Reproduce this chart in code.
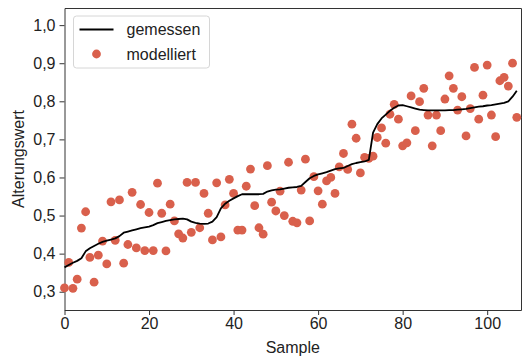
<!DOCTYPE html>
<html>
<head>
<meta charset="utf-8">
<script src="https://cdn.jsdelivr.net/npm/d3@7"></script>
<style>
  html, body { margin: 0; padding: 0; background: #fff; }
  text { font-family: "Liberation Sans", Arial, sans-serif; }
</style>
</head>
<body>
<script>
const { select, scaleLinear, axisLeft, axisBottom, axisTop, axisRight, line, formatLocale } = d3;

// gemessen: one value per sample index 0..107
const measured = [
  0.364, 0.370, 0.376, 0.381, 0.388, 0.406, 0.414, 0.420, 0.426, 0.431,
  0.434, 0.437, 0.440, 0.446, 0.455, 0.458, 0.461, 0.464, 0.467, 0.469,
  0.471, 0.475, 0.480, 0.483, 0.486, 0.488, 0.490, 0.491, 0.492, 0.490,
  0.484, 0.481, 0.479, 0.478, 0.479, 0.484, 0.496, 0.519, 0.531, 0.539,
  0.545, 0.551, 0.556, 0.556, 0.556, 0.556, 0.556, 0.557, 0.563, 0.566,
  0.568, 0.569, 0.571, 0.573, 0.574, 0.575, 0.578, 0.588, 0.598, 0.604,
  0.608, 0.611, 0.614, 0.618, 0.622, 0.624, 0.625, 0.630, 0.635, 0.638,
  0.640, 0.642, 0.646, 0.718, 0.740, 0.755, 0.765, 0.775, 0.783, 0.789,
  0.790, 0.787, 0.784, 0.781, 0.778, 0.777, 0.776, 0.776, 0.776, 0.776,
  0.776, 0.777, 0.777, 0.778, 0.779, 0.780, 0.782, 0.784, 0.786, 0.787,
  0.789, 0.790, 0.792, 0.794, 0.796, 0.800, 0.812, 0.828
]

// modelliert: one value per sample index 0..107
const modelled = [
  0.310, 0.377, 0.309, 0.333, 0.467, 0.510, 0.390, 0.325, 0.396, 0.433,
  0.373, 0.536, 0.435, 0.541, 0.375, 0.424, 0.561, 0.415, 0.529, 0.408,
  0.508, 0.408, 0.585, 0.506, 0.407, 0.530, 0.486, 0.452, 0.441, 0.587,
  0.456, 0.587, 0.468, 0.558, 0.506, 0.436, 0.586, 0.444, 0.528, 0.595,
  0.558, 0.462, 0.462, 0.577, 0.622, 0.526, 0.468, 0.451, 0.631, 0.535,
  0.512, 0.564, 0.500, 0.640, 0.485, 0.481, 0.567, 0.648, 0.486, 0.602,
  0.565, 0.530, 0.591, 0.600, 0.558, 0.628, 0.663, 0.621, 0.740, 0.703,
  0.612, 0.653, 0.650, 0.656, 0.705, 0.730, 0.690, 0.766, 0.792, 0.753,
  0.683, 0.691, 0.814, 0.723, 0.799, 0.834, 0.764, 0.683, 0.764, 0.723,
  0.806, 0.867, 0.834, 0.777, 0.812, 0.709, 0.781, 0.889, 0.753, 0.816,
  0.895, 0.764, 0.707, 0.854, 0.863, 0.840, 0.900, 0.758
]

const xTicks = [0, 20, 40, 60, 80, 100]
const yTicks = [0.3, 0.4, 0.5, 0.6, 0.7, 0.8, 0.9, 1.0]
const legendLabels = ["gemessen", "modelliert"]

const width = 525
const height = 358
const margin = { left: 64.5, right: 4, top: 8, bottom: 48 }

const red = "#d9604c"
const spine = "#333"
const fontSize = "16px"

const de = formatLocale({ decimal: ",", thousands: ".", grouping: [3], currency: ["", " €"] })
const fmt = de.format(".1f")

const svg = select("body")
  .append("svg")
  .attr("width", width)
  .attr("height", height)

const xScale = scaleLinear()
  .domain([0, 108])
  .range([margin.left, width - margin.right])

const yScale = scaleLinear()
  .domain([0.252, 1.045])
  .range([height - margin.bottom, margin.top])

// axes
svg.append("g")
  .attr("transform", `translate(0,${height - margin.bottom})`)
  .call(axisBottom(xScale).tickValues(xTicks).tickSize(5).tickPadding(3).tickSizeOuter(0))

svg.append("g")
  .attr("transform", `translate(${margin.left},0)`)
  .call(axisLeft(yScale).tickValues(yTicks).tickFormat(fmt).tickSize(5).tickPadding(4).tickSizeOuter(0))

svg.append("g")
  .attr("transform", `translate(0,${margin.top})`)
  .call(axisTop(xScale).tickValues([]).tickSizeOuter(0))

svg.append("g")
  .attr("transform", `translate(${width - margin.right},0)`)
  .call(axisRight(yScale).tickValues([]).tickSizeOuter(0))

svg.selectAll(".domain").attr("stroke", spine).attr("stroke-width", 1)
svg.selectAll(".tick line").attr("stroke", spine).attr("stroke-width", 1)
svg.selectAll(".tick text")
  .attr("fill", "#222")
  .style("font-size", fontSize)
  .style("font-family", "Liberation Sans, Arial, sans-serif")

// points
svg.append("g")
  .selectAll("circle")
  .data(modelled)
  .join("circle")
  .attr("cx", (d, i) => xScale(i))
  .attr("cy", d => yScale(d))
  .attr("r", 4.4)
  .attr("fill", red)

// measured line
const lineGen = line()
  .x((d, i) => xScale(i))
  .y(d => yScale(d))

svg.append("path")
  .datum(measured)
  .attr("d", lineGen)
  .attr("fill", "none")
  .attr("stroke", "#000")
  .attr("stroke-width", 1.8)
  .attr("stroke-linejoin", "round")

// axis labels
svg.append("text")
  .attr("x", (xScale.range()[0] + xScale.range()[1]) / 2)
  .attr("y", 353)
  .attr("text-anchor", "middle")
  .style("font-size", fontSize)
  .attr("fill", "#222")
  .text("Sample")

svg.append("text")
  .attr("transform", `translate(23.5,${(yScale.range()[0] + yScale.range()[1]) / 2}) rotate(-90)`)
  .attr("text-anchor", "middle")
  .style("font-size", fontSize)
  .attr("fill", "#222")
  .text("Alterungswert")

// legend
const legend = svg.append("g").attr("transform", "translate(73.5,16)")

legend.append("rect")
  .attr("width", 136)
  .attr("height", 52)
  .attr("rx", 3)
  .attr("fill", "#fff")
  .attr("fill-opacity", 0.8)
  .attr("stroke", "#d6d6d6")

legend.append("line")
  .attr("x1", 6).attr("x2", 40)
  .attr("y1", 13.5).attr("y2", 13.5)
  .attr("stroke", "#000")
  .attr("stroke-width", 1.8)

legend.append("circle")
  .attr("cx", 23).attr("cy", 38)
  .attr("r", 4.4)
  .attr("fill", red)

legend.selectAll("text.lab")
  .data(legendLabels)
  .join("text")
  .attr("class", "lab")
  .attr("x", 53)
  .attr("y", (d, i) => 19 + i * 24.5)
  .style("font-size", fontSize)
  .attr("fill", "#222")
  .text(d => d)
</script>
</body>
</html>
